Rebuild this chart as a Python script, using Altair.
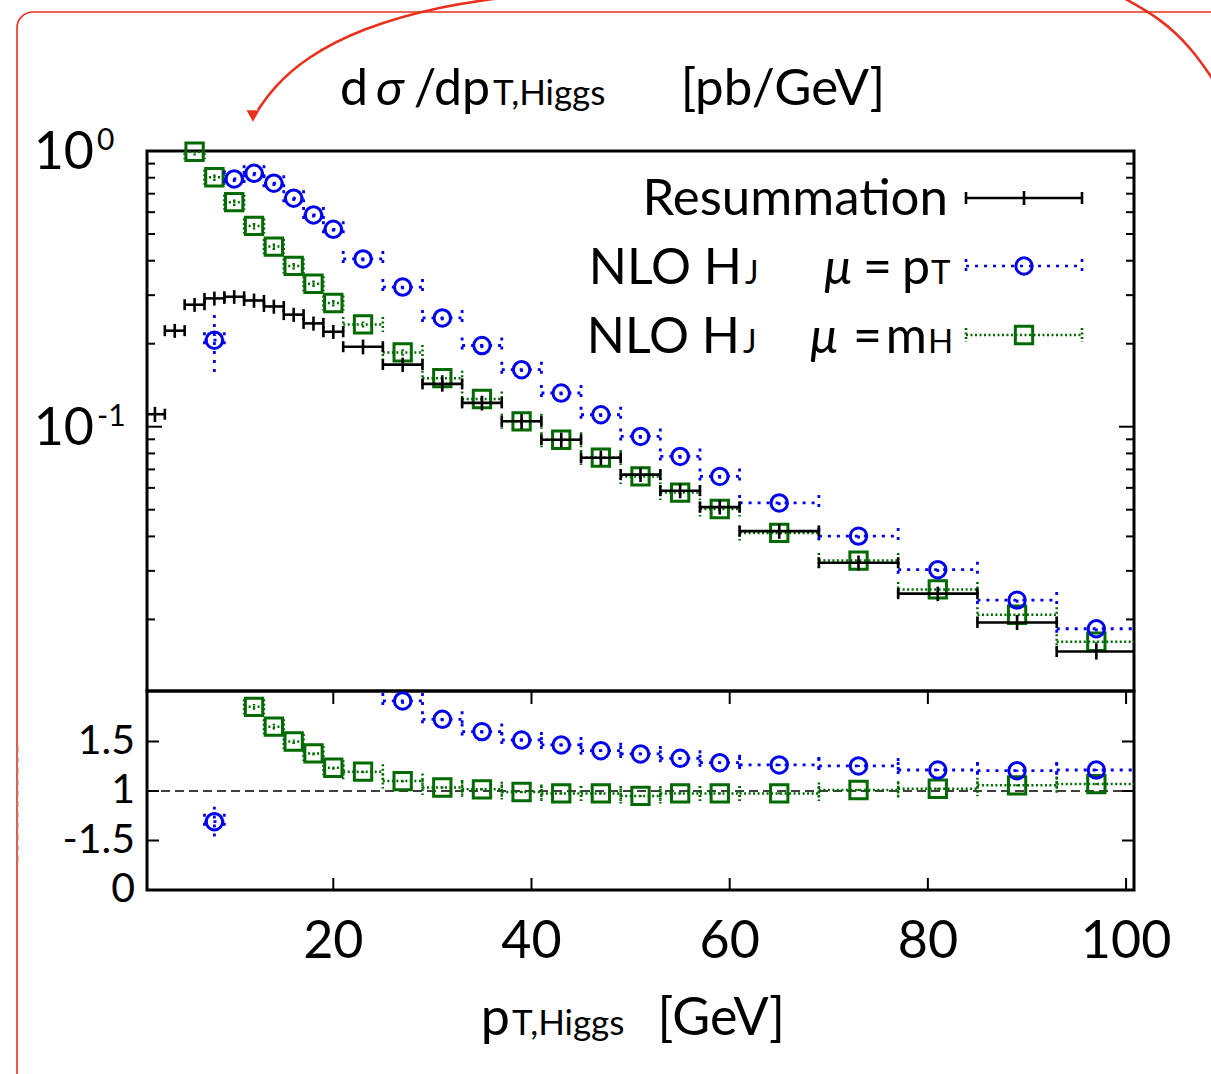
import altair as alt
import pandas as pd

# ---------------- data ----------------
bin_edges = [1, 3, 5, 7, 9, 11, 13, 15, 17, 19, 21, 25, 29, 33, 37, 41, 45, 49, 53, 57,
             61, 69, 77, 85, 93, 101]
pt_centers = [2, 4, 6, 8, 10, 12, 14, 16, 18, 20, 23, 27, 31, 35, 39, 43, 47, 51, 55, 59,
              65, 73, 81, 89, 97]

res_x = pt_centers
res_vals = [0.111, 0.223, 0.277, 0.292, 0.296, 0.287, 0.273, 0.255, 0.237, 0.221, 0.195,
            0.168, 0.143, 0.122, 0.1046, 0.0897, 0.0772, 0.0670, 0.0586, 0.0511, 0.0418,
            0.0321, 0.0248, 0.0195, 0.0153]
res_err = [0.007, 0.013, 0.016, 0.017, 0.017, 0.017, 0.016, 0.015, 0.014, 0.013, 0.012,
           0.010, 0.009, 0.0075, 0.0065, 0.0055, 0.0047, 0.0040, 0.0036, 0.0031, 0.0026,
           0.0020, 0.0015, 0.0012, 0.0010]

pt_x = [8, 10, 12, 14, 16, 18, 20, 23, 27, 31, 35, 39, 43, 47, 51, 55, 59, 65, 73, 81, 89, 97]
pt_vals = [0.206, 0.792, 0.830, 0.764, 0.674, 0.586, 0.520, 0.406, 0.321, 0.248, 0.197,
           0.161, 0.1325, 0.1105, 0.0922, 0.078, 0.066, 0.0529, 0.0401, 0.0303, 0.0235, 0.0185]
pt_err = [0.048, 0.02, 0.02, 0.018, 0.015, 0.012, 0.010, 0.008, 0.006, 0.005, 0.004,
          0.003, 0.0025, 0.002, 0.0018, 0.0015, 0.0012, 0.001, 0.0008, 0.0006, 0.0005, 0.0004]

mh_x = [6, 8, 10, 12, 14, 16, 18, 20, 23, 27, 31, 35, 39, 43, 47, 51, 55, 59, 65, 73, 81, 89, 97]
mh_vals = [0.994, 0.803, 0.652, 0.535, 0.450, 0.383, 0.330, 0.281, 0.235, 0.186, 0.150,
           0.126, 0.1046, 0.0897, 0.0773, 0.066, 0.0577, 0.0503, 0.0412, 0.0327, 0.0257,
           0.0208, 0.0166]
mh_err = [0.03, 0.025, 0.02, 0.016, 0.013, 0.011, 0.009, 0.008, 0.006, 0.005, 0.004,
          0.003, 0.0025, 0.002, 0.0018, 0.0015, 0.0012, 0.001, 0.0008, 0.0006, 0.0005,
          0.0004, 0.0003]

rpt_x = [8, 27, 31, 35, 39, 43, 47, 51, 55, 59, 65, 73, 81, 89, 97]
rpt_vals = [0.69, 1.91, 1.724, 1.60, 1.515, 1.465, 1.407, 1.374, 1.33, 1.286, 1.263, 1.253,
            1.212, 1.205, 1.212]
rpt_err = [0.15, 0.03, 0.02, 0.02, 0.015, 0.015, 0.012, 0.012, 0.01, 0.01, 0.01, 0.01,
           0.01, 0.01, 0.01]

rmh_x = [12, 14, 16, 18, 20, 23, 27, 31, 35, 39, 43, 47, 51, 55, 59, 65, 73, 81, 89, 97]
rmh_vals = [1.85, 1.65, 1.50, 1.38, 1.235, 1.195, 1.10, 1.035, 1.017, 0.99, 0.976, 0.976,
            0.95, 0.976, 0.976, 0.976, 1.01, 1.023, 1.057, 1.07]
rmh_err = [0.03, 0.03, 0.025, 0.02, 0.02, 0.015, 0.012, 0.01, 0.01, 0.01, 0.01, 0.01,
           0.01, 0.01, 0.01, 0.01, 0.01, 0.01, 0.01, 0.01]

x_tick_vals = [20, 40, 60, 80, 100]
x_tick_labels = ["20", "40", "60", "80", "100"]
y_major = [0.1, 1.0]
y_major_exp = ["-1", "0"]
y_minor = [0.02, 0.03, 0.04, 0.05, 0.06, 0.07, 0.08, 0.09,
           0.2, 0.3, 0.4, 0.5, 0.6, 0.7, 0.8, 0.9]
r_ticks = [0.5, 1.0, 1.5]
r_label_vals = [1.5, 1.0, 0.5, 0.0]
r_label_text = ["1.5", "1", "-1.5", "0"]

# ---------------- layout / style ----------------
W, HM, HT = 987, 540, 739
FONT = "Lato, 'DejaVu Sans', sans-serif"
BLUE = "#0000f0"
GREEN = "#006a00"
RED = "#e8301c"

XS = alt.Scale(domain=[1.2, 100.8], nice=False, zero=False)
YS = alt.Scale(type="log", domain=[0.011, 1.0], range=[HM, 0], nice=False)
RS = alt.Scale(domain=[0, 2], range=[HT, HM + 1], nice=False, zero=False)
PXS = alt.Scale(domain=[0, 1211], range=[-147, 1064], nice=False, zero=False)
PYS = alt.Scale(domain=[0, 1074], range=[-151, 923], nice=False, zero=False)
ONE = alt.Data(values=[{"a": 1}])


def frame(xs, vals, errs):
    rows = []
    for x, v, e in zip(xs, vals, errs):
        i = pt_centers.index(x)
        rows.append({"x": x, "v": v, "lo": bin_edges[i], "hi": bin_edges[i + 1],
                     "vlo": v - e, "vhi": v + e})
    return pd.DataFrame(rows)


def series(df, ys, color, width, dash, cap, marker=None, msize=0, mwidth=3):
    base = alt.Chart(df)
    dk = {"strokeDash": dash} if dash else {}
    X = lambda f: alt.X(f"{f}:Q", scale=XS, axis=None)
    Y = lambda f: alt.Y(f"{f}:Q", scale=ys, axis=None)
    out = [
        base.mark_rule(color=color, strokeWidth=width, clip=True, **dk).encode(
            x=X("lo"), x2="hi:Q", y=Y("v")),
        base.mark_rule(color=color, strokeWidth=width, clip=True, **dk).encode(
            x=X("x"), y=Y("vlo"), y2="vhi:Q"),
        base.mark_point(shape="M0,-1L0,1", size=cap * cap, filled=False, color=color,
                        strokeWidth=width, clip=True, opacity=1, **dk).encode(
            x=X("lo"), y=Y("v")),
        base.mark_point(shape="M0,-1L0,1", size=cap * cap, filled=False, color=color,
                        strokeWidth=width, clip=True, opacity=1, **dk).encode(
            x=X("hi"), y=Y("v")),
    ]
    if marker:
        out.append(base.mark_point(shape=marker, size=msize, filled=False, color=color,
                                   strokeWidth=mwidth, opacity=1).encode(
            x=X("x"), y=Y("v")))
    return out


def txt(s, x, y, size, align="left", italic=False, baseline="alphabetic", color="black"):
    kw = dict(text=s, fontSize=size, align=align, baseline=baseline, font=FONT, color=color)
    if italic:
        kw["fontStyle"] = "italic"
    return alt.Chart(ONE).mark_text(**kw).encode(x=alt.value(x), y=alt.value(y))


layers = []

# slide decoration: red frame and arrows
layers.append(alt.Chart(ONE).mark_rect(filled=False, stroke=RED, strokeWidth=1.6,
                                       cornerRadius=16).encode(
    x=alt.value(-130), x2=alt.value(1150), y=alt.value(-139), y2=alt.value(1000)))
layers.append(alt.Chart(ONE).mark_rule(color="#999999", strokeWidth=1.2,
                                       strokeDash=[6, 5]).encode(
    x=alt.value(-129), y=alt.value(595), y2=alt.value(715)))
arrow1 = pd.DataFrame({"px": [515, 440, 362, 305, 273, 258],
                       "py": [-4, 6, 28, 58, 88, 110], "o": range(6)})
arrow2 = pd.DataFrame({"px": [1120, 1160, 1192, 1220],
                       "py": [-4, 18, 48, 90], "o": range(4)})
for a in (arrow1, arrow2):
    layers.append(alt.Chart(a).mark_line(color=RED, strokeWidth=2.6, interpolate="basis").encode(
        x=alt.X("px:Q", scale=PXS, axis=None), y=alt.Y("py:Q", scale=PYS, axis=None),
        order="o:Q"))
layers.append(alt.Chart(ONE).mark_point(shape="triangle-down", size=170, filled=True,
                                        color=RED, opacity=1).encode(
    x=alt.value(253 - 147), y=alt.value(116 - 151)))

# panel boxes
for y0, y1 in ((0, HM), (HM, HT)):
    layers.append(alt.Chart(ONE).mark_rect(filled=False, stroke="black", strokeWidth=3).encode(
        x=alt.value(0), x2=alt.value(W), y=alt.value(y0), y2=alt.value(y1)))

# ticks (inward)
xt = pd.DataFrame({"t": x_tick_vals, "lab": x_tick_labels})
for ya, yb in ((HM + 1, HM + 13), (HT - 12, HT)):
    layers.append(alt.Chart(xt).mark_rule(color="black", strokeWidth=2).encode(
        x=alt.X("t:Q", scale=XS, axis=None), y=alt.value(ya), y2=alt.value(yb)))
for vals, ln in ((y_major, 15), (y_minor, 8)):
    d = pd.DataFrame({"t": vals})
    layers.append(alt.Chart(d).mark_rule(color="black", strokeWidth=2).encode(
        y=alt.Y("t:Q", scale=YS, axis=None), x=alt.value(0), x2=alt.value(ln)))
    layers.append(alt.Chart(d).mark_rule(color="black", strokeWidth=2).encode(
        y=alt.Y("t:Q", scale=YS, axis=None), x=alt.value(W - ln), x2=alt.value(W)))
rt = pd.DataFrame({"t": r_ticks})
layers.append(alt.Chart(rt).mark_rule(color="black", strokeWidth=2).encode(
    y=alt.Y("t:Q", scale=RS, axis=None), x=alt.value(0), x2=alt.value(12)))
layers.append(alt.Chart(rt).mark_rule(color="black", strokeWidth=2).encode(
    y=alt.Y("t:Q", scale=RS, axis=None), x=alt.value(W - 12), x2=alt.value(W)))

# tick labels
layers.append(alt.Chart(xt).mark_text(fontSize=52, font=FONT, align="center",
                                      baseline="alphabetic").encode(
    x=alt.X("t:Q", scale=XS, axis=None), y=alt.value(807), text="lab:N"))
ym = pd.DataFrame({"t": y_major, "e": y_major_exp, "b": ["10", "10"]})
layers.append(alt.Chart(ym).mark_text(fontSize=52, font=FONT, align="right",
                                      baseline="middle", dy=2).encode(
    y=alt.Y("t:Q", scale=YS, axis=None), x=alt.value(-53), text="b:N"))
layers.append(alt.Chart(ym).mark_text(fontSize=30, font=FONT, align="left",
                                      baseline="middle", dy=-10).encode(
    y=alt.Y("t:Q", scale=YS, axis=None), x=alt.value(-50), text="e:N"))
rl = pd.DataFrame({"t": r_label_vals, "lab": r_label_text})
layers.append(alt.Chart(rl).mark_text(fontSize=41, font=FONT, align="right",
                                      baseline="middle").encode(
    y=alt.Y("t:Q", scale=RS, axis=None), x=alt.value(-12), text="lab:N"))

# ratio reference line
layers.append(alt.Chart(pd.DataFrame({"r": [1.0]})).mark_rule(
    color="black", strokeWidth=1.3, strokeDash=[9, 5]).encode(
    y=alt.Y("r:Q", scale=RS, axis=None), x=alt.value(0), x2=alt.value(W)))

# data series - main panel
layers += series(frame(mh_x, mh_vals, mh_err), YS, GREEN, 2.5, [2, 2.5], 15,
                 "square", 300, 3)
layers += series(frame(pt_x, pt_vals, pt_err), YS, BLUE, 2.8, [3, 6], 16,
                 "circle", 270, 3)
layers += series(frame(res_x, res_vals, res_err), YS, "black", 2.6, None, 11)

# data series - ratio panel
layers += series(frame(rmh_x, rmh_vals, rmh_err), RS, GREEN, 2.5, [2, 2.5], 15,
                 "square", 300, 3)
layers += series(frame(rpt_x, rpt_vals, rpt_err), RS, BLUE, 2.8, [3, 6], 16,
                 "circle", 270, 3)

# legend
LX0, LX1, LXC = 819, 935, 877
layers.append(txt("Resummation", 801, 64, 51, align="right"))
layers.append(alt.Chart(ONE).mark_rule(color="black", strokeWidth=2.6).encode(
    x=alt.value(LX0), x2=alt.value(LX1), y=alt.value(47)))
layers.append(alt.Chart(ONE).mark_rule(color="black", strokeWidth=2.6).encode(
    x=alt.value(LXC), y=alt.value(40), y2=alt.value(54)))
for xx in (LX0, LX1):
    layers.append(alt.Chart(ONE).mark_rule(color="black", strokeWidth=2.6).encode(
        x=alt.value(xx), y=alt.value(41), y2=alt.value(53)))

for ly, col, dash, shape, ms, sub, word, sx, hx, mx, ex in (
        (115, BLUE, [3, 6], "circle", 270, "T", "p", 783, 595, 705, 745),
        (184, GREEN, [2, 2.5], "square", 300, "H", "m", 780, 593, 691, 735)):
    base_y = ly + 18
    layers.append(alt.Chart(ONE).mark_rule(color=col, strokeWidth=2.6, strokeDash=dash).encode(
        x=alt.value(LX0), x2=alt.value(LX1), y=alt.value(ly)))
    for xx in (LX0, LX1):
        layers.append(alt.Chart(ONE).mark_rule(color=col, strokeWidth=2.6, strokeDash=dash).encode(
            x=alt.value(xx), y=alt.value(ly - 7), y2=alt.value(ly + 7)))
    layers.append(alt.Chart(ONE).mark_point(shape=shape, size=ms, filled=False, color=col,
                                            strokeWidth=3, opacity=1).encode(
        x=alt.value(LXC), y=alt.value(ly)))
    layers.append(txt("NLO H", hx, base_y, 50, align="right"))
    layers.append(txt("J", hx + 3, base_y, 32))
    layers.append(txt("\u03bc", mx, base_y, 50, align="right", italic=True))
    layers.append(txt("=", ex, base_y, 50, align="right"))
    layers.append(txt(word, sx, base_y, 50, align="right"))
    layers.append(txt(sub, sx + 1, base_y, 33))

# titles
layers.append(txt("d", 193, -46, 50))
layers.append(txt("\u03c3", 229, -46, 50, italic=True))
layers.append(txt("/dp", 343, -46, 50, align="right"))
layers.append(txt("T,Higgs", 346, -46, 35))
layers.append(txt("[pb/GeV]", 738, -46, 51, align="right"))
layers.append(txt("p", 363, 884, 52, align="right"))
layers.append(txt("T,Higgs", 365, 884, 35))
layers.append(txt("[GeV]", 638, 884, 52, align="right"))

chart = alt.layer(*layers).resolve_scale(x="independent", y="independent").properties(
    width=W, height=HT,
    autosize=alt.AutoSizeParams(type="none"),
    padding={"left": 147, "top": 151, "right": 77, "bottom": 184},
    background="white",
).configure_view(stroke=None)

chart.save("out.html", embed_options={"renderer": "svg", "actions": False})
